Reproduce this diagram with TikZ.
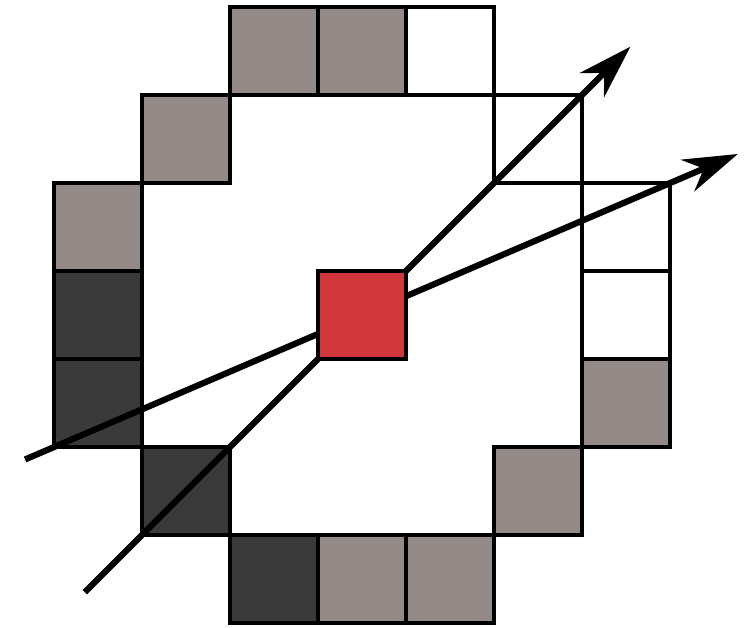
\documentclass[tikz,border=0pt]{standalone}
\usetikzlibrary{arrows.meta,calc}
\definecolor{ash}{RGB}{148,139,137}
\definecolor{coal}{RGB}{58,58,58}
\definecolor{brick}{RGB}{208,54,58}
\tikzset{
  >={Stealth[length=6.2mm,width=3.9mm,inset=2mm]},
  pix/.style={draw=black,fill=#1,line width=1.1pt,minimum size=1cm,
    inner sep=0pt,outer sep=0pt},
  pix/.default=white,
  ray/.style={->,line width=2pt,draw=black},
}

\begin{document}
\begin{tikzpicture}
  \useasboundingbox (-0.614,-0.045) rectangle (7.886,7.08);
  % ring of 16 pixels, clockwise from the top
  \foreach \n/\x/\y/\c in {
    1/3.5/6.5/ash, 2/4.5/6.5/white, 3/5.5/5.5/white, 4/6.5/4.5/white,
    5/6.5/3.5/white, 6/6.5/2.5/ash, 7/5.5/1.5/ash, 8/4.5/0.5/ash,
    9/3.5/0.5/ash, 10/2.5/0.5/coal, 11/1.5/1.5/coal, 12/0.5/2.5/coal,
    13/0.5/3.5/coal, 14/0.5/4.5/ash, 15/1.5/5.5/ash, 16/2.5/6.5/ash}
  {
    \node[pix=\c] (p\n) at (\x,\y) {};
  }
  % rays through the centre pixel
  \coordinate (r1s) at ($(p11.south west)!-0.13!(p3.north east)$);
  \coordinate (r1e) at ($(p11.south west)!1.11!(p3.north east)$);
  \coordinate (r2s) at ($(p12.south west)!-0.047!(p4.north east)$);
  \coordinate (r2e) at ($(p12.south west)!1.11!(p4.north east)$);
  \draw[ray] (r1s) -- (r1e);
  \draw[ray] (r2s) -- (r2e);
  \node[pix=brick] (p) at (3.5,3.5) {};
\end{tikzpicture}
\end{document}
